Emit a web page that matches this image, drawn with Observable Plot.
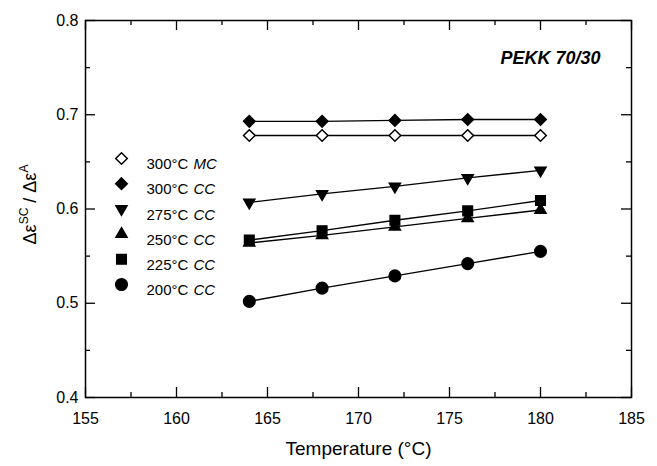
<!DOCTYPE html>
<html>
<head>
<meta charset="utf-8">
<script src="https://cdn.jsdelivr.net/npm/d3@7"></script>
<script src="https://cdn.jsdelivr.net/npm/@observablehq/plot@0.6"></script>
<style>
  html, body { margin: 0; padding: 0; background: #fff; }
  svg { font-family: "Liberation Sans", Arial, Helvetica, sans-serif; }
</style>
</head>
<body>
<div id="chart"></div>
<script>
// ---- data ----
const temperatures = [164, 168, 172, 176, 180];
const seriesNames = ["300MC", "300CC", "275CC", "250CC", "225CC", "200CC"];
const seriesTemp = ["300°C", "300°C", "275°C", "250°C", "225°C", "200°C"];
const seriesMode = ["MC", "CC", "CC", "CC", "CC", "CC"];
const v300MC = [0.678, 0.678, 0.678, 0.678, 0.678];
const v300CC = [0.693, 0.693, 0.694, 0.695, 0.695];
const v275CC = [0.607, 0.616, 0.624, 0.633, 0.641];
const v250CC = [0.564, 0.572, 0.581, 0.590, 0.599];
const v225CC = [0.567, 0.577, 0.588, 0.598, 0.609];
const v200CC = [0.502, 0.516, 0.529, 0.542, 0.555];
const xMajorTicks = [155, 160, 165, 170, 175, 180, 185];
const xMinorTicks = [157.5, 162.5, 167.5, 172.5, 177.5, 182.5];
const yMajorTicks = [0.4, 0.5, 0.6, 0.7, 0.8];
const yMinorTicks = [0.45, 0.55, 0.65, 0.75];
const xTitle = "Temperature (°C)";
const annotation = "PEKK 70/30";

const seriesValues = [v300MC, v300CC, v275CC, v250CC, v225CC, v200CC];
const symbols = ["diamond2", "diamond2", "triangle", "triangle", "square", "circle"];
const fills = ["white", "black", "black", "black", "black", "black"];
const rotations = [0, 0, 180, 0, 0, 0];
const symSize = {diamond2: 5.2, triangle: 4.1, square: 5.4, circle: 5.8};

const data = [];
seriesNames.forEach((s, i) => {
  temperatures.forEach((t, j) => data.push({series: s, idx: i, x: t, y: seriesValues[i][j]}));
});

const W = 657, H = 466;
const mL = 85, mR = 26, mT = 20, mB = 69;
const pw = W - mL - mR, ph = H - mT - mB;
const majorLen = 10, minorLen = 5;

const tickStyle = {stroke: "black", strokeWidth: 1.3};

const legendMarks = [];
seriesNames.forEach((s, i) => {
  const dy = 138 + i * 25.2;
  legendMarks.push(Plot.dot([s], {
    frameAnchor: "top-left", dx: 36, dy,
    symbol: symbols[i], fill: fills[i], stroke: "black", strokeWidth: 1.5,
    r: symSize[symbols[i]], rotate: rotations[i]
  }));
  legendMarks.push(Plot.text([seriesTemp[i]], {
    frameAnchor: "top-left", dx: 61, dy, text: d => d,
    textAnchor: "start", fontSize: 15, fill: "black"
  }));
  legendMarks.push(Plot.text([seriesMode[i]], {
    frameAnchor: "top-left", dx: 108, dy, text: d => d,
    textAnchor: "start", fontSize: 15, fontStyle: "italic", fill: "black"
  }));
});

const dotMarks = Object.keys(symSize).map(sym => Plot.dot(data, {
  filter: d => symbols[d.idx] === sym,
  x: "x", y: "y", symbol: "series", r: symSize[sym],
  fill: d => fills[d.idx], stroke: "black", strokeWidth: 1.5,
  rotate: d => rotations[d.idx]
}));

const plot = Plot.plot({
  width: W, height: H,
  marginLeft: mL, marginRight: mR, marginTop: mT, marginBottom: mB,
  x: {domain: [155, 185]},
  y: {domain: [0.4, 0.8]},
  symbol: {domain: seriesNames, range: symbols},
  style: {background: "white", color: "black"},
  marks: [
    // ticks (inward) on all four sides
    Plot.tickX(xMajorTicks, {x: d => d, insetTop: ph - majorLen, ...tickStyle}),
    Plot.tickX(xMinorTicks, {x: d => d, insetTop: ph - minorLen, ...tickStyle}),
    Plot.tickX(xMajorTicks, {x: d => d, insetBottom: ph - majorLen, ...tickStyle}),
    Plot.tickX(xMinorTicks, {x: d => d, insetBottom: ph - minorLen, ...tickStyle}),
    Plot.tickY(yMajorTicks, {y: d => d, insetRight: pw - majorLen, ...tickStyle}),
    Plot.tickY(yMinorTicks, {y: d => d, insetRight: pw - minorLen, ...tickStyle}),
    Plot.tickY(yMajorTicks, {y: d => d, insetLeft: pw - majorLen, ...tickStyle}),
    Plot.tickY(yMinorTicks, {y: d => d, insetLeft: pw - minorLen, ...tickStyle}),
    Plot.axisX({ticks: xMajorTicks, tickSize: 0, tickPadding: 15, fontSize: 16, label: null, tickFormat: d => String(d)}),
    Plot.axisY({ticks: yMajorTicks, tickSize: 0, tickPadding: 7, fontSize: 16, label: null, tickFormat: d => d.toFixed(1)}),
    Plot.frame({stroke: "black", strokeWidth: 1.5}),
    Plot.line(data, {x: "x", y: "y", z: "series", stroke: "black", strokeWidth: 1.4}),
    ...dotMarks,
    ...legendMarks,
    Plot.text([annotation], {frameAnchor: "top-right", dx: -31, dy: 31, text: d => d,
      textAnchor: "end", fontSize: 18, fontWeight: "bold", fontStyle: "italic", fill: "black"}),
    Plot.text([xTitle], {frameAnchor: "bottom", dy: 57, text: d => d, fontSize: 19, fill: "black"})
  ]
});

// y-axis title with superscripts
const svg = d3.select(plot);
const yl = svg.append("text")
  .attr("transform", `translate(36, ${mT + ph / 2 - 4}) rotate(-90)`)
  .attr("text-anchor", "middle")
  .attr("font-size", 18)
  .attr("fill", "black");
yl.append("tspan").text("Δε");
yl.append("tspan").attr("font-size", 12).attr("dy", -8).text("SC");
yl.append("tspan").attr("dy", 8).text(" / Δε");
yl.append("tspan").attr("font-size", 12).attr("dy", -8).text("A");

document.getElementById("chart").appendChild(plot);
</script>
</body>
</html>
